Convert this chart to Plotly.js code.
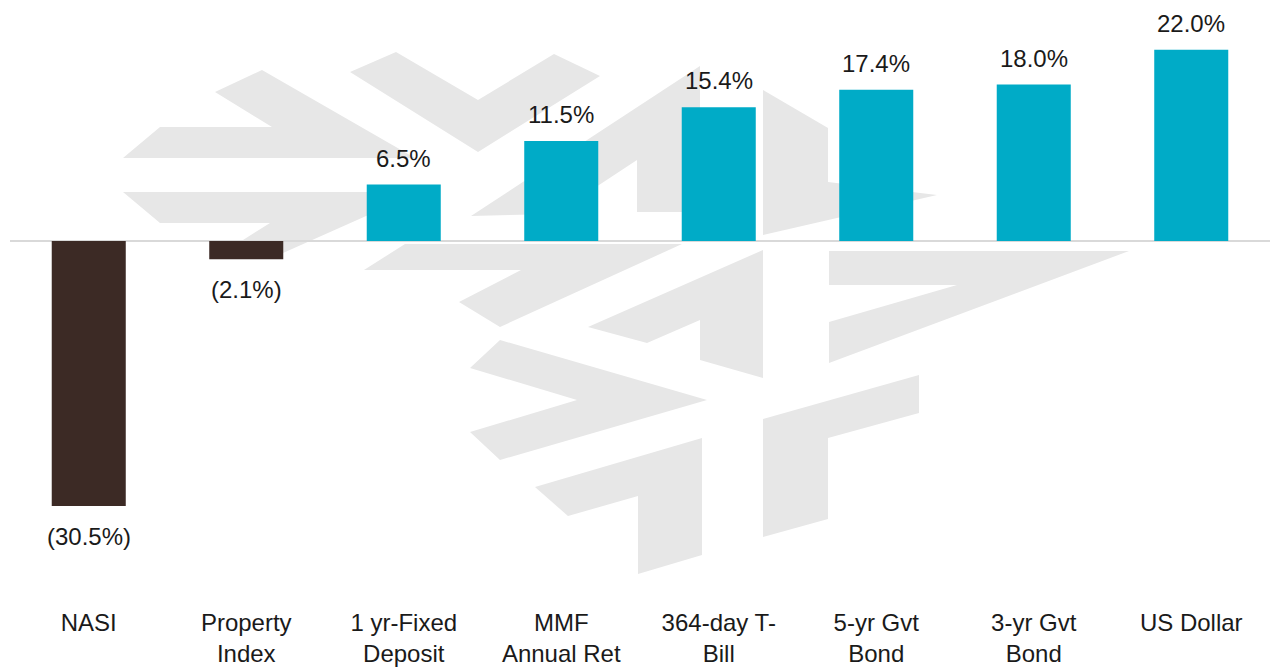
<!DOCTYPE html>
<html>
<head>
<meta charset="utf-8">
<script src="https://cdn.plot.ly/plotly-3.0.1.min.js"></script>
<style>
  html, body { margin: 0; padding: 0; background: #fff; }
  #plot { width: 1270px; height: 668px; }
</style>
</head>
<body>
<div id="plot"></div>
<script>
// categories and returns (%)
const categories = ['NASI', 'Property<br>Index', '1 yr-Fixed<br>Deposit', 'MMF<br>Annual Ret',
                    '364-day T-<br>Bill', '5-yr Gvt<br>Bond', '3-yr Gvt<br>Bond', 'US Dollar'];
const returns = [-30.5, -2.1, 6.5, 11.5, 15.4, 17.4, 18.0, 22.0];

const TEAL = '#00abc7';
const BROWN = '#3c2a25';
const FONT = '"Liberation Sans", Arial, sans-serif';

function fmt(v) {
    // negatives shown in brackets
    return v < 0 ? '(' + Math.abs(v).toFixed(1) + '%)' : v.toFixed(1) + '%';
}

// faint logo behind the bars, drawn in page pixels
const logoPolys = [
    '123,158 160,127 272,127 215,92 262,70 415,158',
    '123,192 420,192 283,253 243,240 270,223 160,223',
    '350,72 396,52 478,100 554,54 600,76 478,152',
    '471,216 700,66 700,212 637,212 637,160 555,214',
    '763,90 828,128 828,182 937,195 763,235',
    '364,270 405,244 682,244 500,327 459,302 521,270',
    '588,327 763,250 763,378 700,360 700,320 647,343',
    '829,251 1129,251 829,363 829,322 957,285 829,285',
    '500,340 707,400 500,460 470,432 577,400 470,368',
    '535,487 702,438 702,555 638,574 638,496 568,516',
    '763,419 919,375 919,413 828,438 828,519 763,537'
];
const svg = '<svg xmlns="http://www.w3.org/2000/svg" width="1270" height="668" viewBox="0 0 1270 668">' +
    logoPolys.map(p => '<polygon points="' + p + '" fill="#e7e7e7"/>').join('') + '</svg>';

const trace = {
    type: 'bar',
    x: categories,
    y: returns,
    marker: { color: returns.map(v => v < 0 ? BROWN : TEAL) },
    hoverinfo: 'skip'
};

const annotations = returns.map((v, i) => ({
    x: categories[i],
    y: v,
    text: fmt(v),
    showarrow: false,
    xanchor: 'center',
    yanchor: v < 0 ? 'top' : 'bottom',
    yshift: v < 0 ? -15 : 11,
    font: { family: FONT, size: 24, color: '#1a1a1a' }
}));

const W = 1260, H = 602;
const layout = {
    width: 1270,
    height: 668,
    margin: { l: 10, r: 0, t: 0, b: 66 },
    paper_bgcolor: '#ffffff',
    plot_bgcolor: 'rgba(0,0,0,0)',
    showlegend: false,
    bargap: 0.53,
    font: { family: FONT, size: 24, color: '#1a1a1a' },
    xaxis: {
        type: 'category',
        showgrid: false,
        showline: false,
        zeroline: false,
        ticks: '',
        tickfont: { family: FONT, size: 24, color: '#1a1a1a' },
        ticklabelstandoff: 4
    },
    yaxis: {
        range: [-41.54, 27.73],
        showgrid: false,
        showticklabels: false,
        ticks: '',
        zeroline: true,
        zerolinecolor: '#d9d9d9',
        zerolinewidth: 2
    },
    annotations: annotations,
    images: [{
        source: 'data:image/svg+xml;charset=utf-8,' + encodeURIComponent(svg),
        xref: 'paper', yref: 'paper',
        x: -10 / W, y: 1,
        sizex: 1270 / W, sizey: 668 / H,
        xanchor: 'left', yanchor: 'top',
        sizing: 'stretch',
        layer: 'below'
    }]
};

Plotly.newPlot('plot', [trace], layout, { displayModeBar: false, staticPlot: true });
</script>
</body>
</html>
